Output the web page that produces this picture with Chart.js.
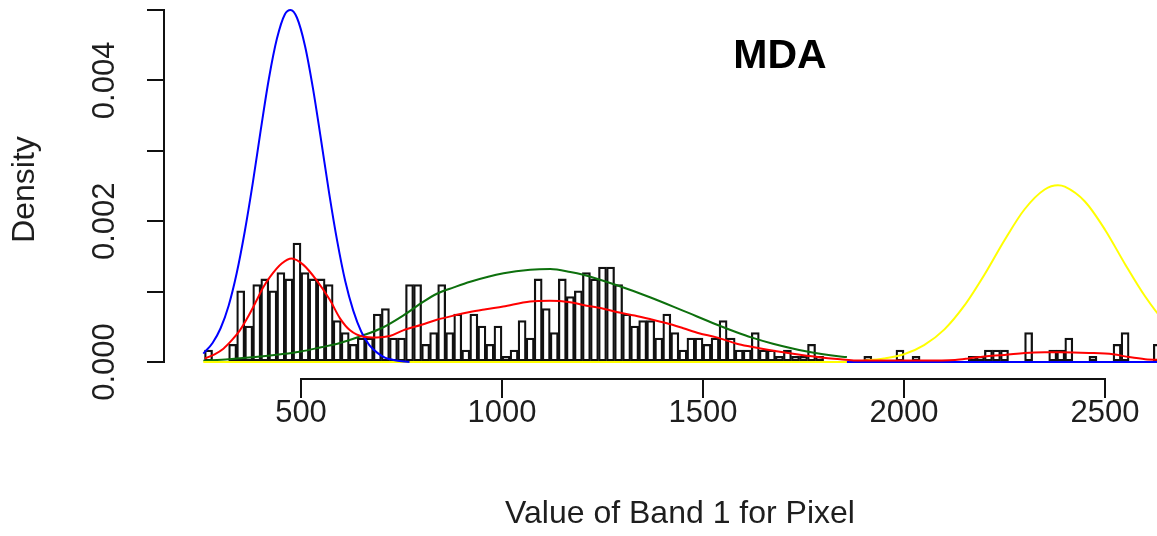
<!DOCTYPE html>
<html>
<head>
<meta charset="utf-8">
<script src="https://cdn.jsdelivr.net/npm/chart.js@4.4.1/dist/chart.umd.min.js"></script>
<style>
html,body{margin:0;padding:0;background:#fff;overflow:hidden;width:1157px;height:536px}
#wrap{position:relative;width:1195px;height:536px}
canvas{display:block}
</style>
</head>
<body>
<div id="wrap"><canvas id="c" width="1195" height="536"></canvas></div>
<script>
// ---------------- data ----------------
const binStart = 260;
const binWidth = 20;
const binDensity = [
  0.00017,0,0,0.00025,0.00101,0.00051,0.00110,0.00118,0.00101,0.00127,
  0.00118,0.00169,0.00127,0.00118,0.00118,0.00110,0.00059,0.00042,0.00025,0.00034,
  0.00034,0.00068,0.00076,0.00034,0.00034,0.00110,0.00110,0.00025,0.00042,0.00110,
  0.00042,0.00068,0.00017,0.00068,0.00051,0.00025,0.00051,0.00008,0.00017,0.00059,
  0.00034,0.00118,0.00076,0.00042,0.00118,0.00093,0.00101,0.00127,0.00118,0.00135,
  0.00135,0.00110,0.00068,0.00051,0.00059,0.00059,0.00034,0.00068,0.00042,0.00017,
  0.00034,0.00034,0.00025,0.00034,0.00059,0.00034,0.00017,0.00017,0.00042,0.00017,
  0.00017,0.00008,0.00017,0.00008,0.00008,0.00025,0.00008,0,0,0,
  0,0,0.00008,0,0,0,0.00017,0,0.00008,0,
  0,0,0,0,0,0.00008,0.00008,0.00017,0.00017,0.00017,
  0,0,0.00042,0,0,0.00017,0.00017,0.00034,0,0,
  0.00008,0,0,0.00025,0.00042,0,0,0,0.00025
];

const blueCurve = [
  [257,0.00012],[280,0.00027],[300,0.00048],[320,0.00080],[340,0.00126],[360,0.00185],
  [380,0.00254],[400,0.00330],[420,0.00402],[440,0.00459],[460,0.00494],[474,0.00500],
  [490,0.00489],[510,0.00449],[530,0.00388],[550,0.00315],[570,0.00240],[590,0.00172],
  [610,0.00115],[630,0.00073],[650,0.00043],[670,0.00024],[690,0.00013],[710,0.00006],
  [730,0.00003],[750,0.00001],[770,0],[1000,null],[1858,0],[2730,0]
];
const greenCurve = [
  [257,0.00002],[320,0.00004],[386,0.00007],[450,0.00011],[500,0.00015],[550,0.00021],
  [597,0.00027],[650,0.00037],[700,0.00048],[754,0.00066],[800,0.00084],[838,0.00097],
  [880,0.00106],[921,0.00114],[1004,0.00126],[1070,0.00131],[1120,0.00132],[1170,0.00128],
  [1202,0.00124],[1286,0.00109],[1368,0.00092],[1450,0.00073],[1535,0.00053],[1585,0.00042],
  [1620,0.00035],[1674,0.00026],[1759,0.00015],[1841,0.00008],[1858,0.00007]
];
const redCurve = [
  [261,0.00005],[285,0.00011],[307,0.00019],[328,0.00031],[348,0.00045],[370,0.00066],
  [390,0.00088],[405,0.00105],[423,0.00121],[452,0.00140],[477,0.00147],[506,0.00138],
  [539,0.00116],[572,0.00088],[597,0.00062],[622,0.00045],[655,0.00036],[688,0.00035],
  [721,0.00037],[754,0.00045],[800,0.00053],[838,0.00060],[880,0.00066],[920,0.00071],
  [960,0.00075],[1003,0.00079],[1070,0.00086],[1119,0.00087],[1169,0.00085],[1202,0.00081],
  [1250,0.00076],[1285,0.00071],[1330,0.00066],[1368,0.00061],[1410,0.00055],[1451,0.00048],
  [1490,0.00041],[1534,0.00035],[1584,0.00026],[1617,0.00022],[1675,0.00016],[1720,0.00012],
  [1758,0.00009],[1800,0.00006],[1841,0.00004],[1880,0.00002],[1950,0.00002],[2050,0.00002],
  [2127,0.00003],[2160,0.00005],[2200,0.00008],[2250,0.00010],[2300,0.00013],[2350,0.00014],
  [2390,0.00014],[2460,0.00013],[2520,0.00011],[2560,0.00007],[2600,0.00004],[2640,0.00003],
  [2700,0.00002]
];
const yellowCurve = [
  [257,0],[1850,0],[1900,0.00002],[1950,0.00005],[2000,0.00011],[2050,0.00024],
  [2100,0.00046],[2150,0.00080],[2200,0.00124],[2250,0.00173],[2300,0.00217],[2350,0.00245],
  [2383,0.00251],[2400,0.00249],[2450,0.00228],[2500,0.00188],[2550,0.00139],[2600,0.00093],
  [2650,0.00056],[2700,0.00031],[2730,0.00020]
];

const xTicks = [500, 1000, 1500, 2000, 2500];
const xTickLabels = ['500', '1000', '1500', '2000', '2500'];
const yTicks = [0, 0.001, 0.002, 0.003, 0.004, 0.005];
const yTickLabels = ['0.000', '', '0.002', '', '0.004', ''];
const xTitle = 'Value of Band 1 for Pixel';
const yTitle = 'Density';
const chartTitle = 'MDA';

// ---------------- chart ----------------
const FONT = "'Liberation Sans', Arial, sans-serif";
const TEXT = '#1e1e1e';
const toPts = a => a.map(p => ({x: p[0], y: p[1]}));
const bars = binDensity.map((d, i) => ({x: binStart + binWidth * (i + 0.5), y: d}));

const axisLines = {
  id: 'axisLines',
  afterDraw(chart) {
    const {ctx, chartArea, scales: {x, y}} = chart;
    ctx.save();
    ctx.strokeStyle = '#111';
    ctx.lineWidth = 2;
    ctx.beginPath();
    ctx.moveTo(x.getPixelForValue(xTicks[0]) - 1, chartArea.bottom);
    ctx.lineTo(x.getPixelForValue(xTicks[xTicks.length - 1]) + 1, chartArea.bottom);
    ctx.moveTo(chartArea.left - 1, y.getPixelForValue(yTicks[0]) + 1);
    ctx.lineTo(chartArea.left - 1, y.getPixelForValue(yTicks[yTicks.length - 1]) - 1);
    ctx.stroke();
    ctx.fillStyle = '#000';
    ctx.font = "bold 41px " + FONT;
    ctx.textAlign = 'center';
    ctx.textBaseline = 'middle';
    ctx.fillText(chartTitle, 780, 57);
    ctx.restore();
  }
};

const lineDs = (pts, color, order) => ({
  type: 'line', data: toPts(pts), borderColor: color, borderWidth: 2,
  pointRadius: 0, fill: false, cubicInterpolationMode: 'monotone', spanGaps: false, order
});

new Chart(document.getElementById('c'), {
  type: 'bar',
  data: {
    datasets: [
      {type: 'bar', data: bars, backgroundColor: 'rgba(255,255,255,0)', borderColor: '#111',
       borderWidth: 1.6, borderSkipped: false, barPercentage: 1, categoryPercentage: 1, order: 6},
      lineDs(greenCurve, '#0d700d', 5),
      lineDs(yellowCurve, '#ffff00', 4),
      lineDs(blueCurve, '#0000ff', 3),
      lineDs(redCurve, '#ff0000', 2)
    ]
  },
  options: {
    responsive: false,
    animation: false,
    devicePixelRatio: 1,
    layout: {padding: 0},
    plugins: {legend: {display: false}, tooltip: {enabled: false}, title: {display: false}},
    scales: {
      x: {
        type: 'linear', position: 'bottom', min: 161.7, max: 2723.9, offset: false,
        afterBuildTicks: s => { s.ticks = xTicks.map(v => ({value: v})); },
        afterFit: s => { s.height = 157; s.paddingLeft = s.paddingRight = s.paddingTop = s.paddingBottom = 0; },
        grid: {display: true, offset: false, drawOnChartArea: false, drawTicks: true, tickLength: 19, color: '#111', lineWidth: 2},
        border: {display: false},
        ticks: {autoSkip: false, minRotation: 0, maxRotation: 0, padding: 0, color: TEXT,
                font: {size: 31, family: FONT, lineHeight: 1},
                callback: v => xTickLabels[xTicks.indexOf(v)]},
        title: {display: true, text: xTitle, color: TEXT, font: {size: 32, family: FONT, lineHeight: 1.2},
                padding: {top: 0, bottom: 3}}
      },
      y: {
        type: 'linear', position: 'left', min: -0.000241, max: 0.005142,
        afterBuildTicks: s => { s.ticks = yTicks.map(v => ({value: v})); },
        afterFit: s => { s.width = 165; s.paddingLeft = s.paddingRight = s.paddingTop = s.paddingBottom = 0; },
        grid: {display: true, drawOnChartArea: false, drawTicks: true, tickLength: 18, color: '#111', lineWidth: 2},
        border: {display: false},
        ticks: {autoSkip: false, minRotation: 90, maxRotation: 90, crossAlign: 'center', padding: 3, color: TEXT,
                font: {size: 31, family: FONT},
                callback: v => { const i = yTicks.findIndex(t => Math.abs(t - v) < 1e-9); return i < 0 ? '' : yTickLabels[i]; }},
        title: {display: true, text: yTitle, color: TEXT, font: {size: 32, family: FONT, lineHeight: 1.2},
                padding: {top: 6, bottom: 0}}
      }
    }
  },
  plugins: [axisLines]
});
</script>
</body>
</html>
